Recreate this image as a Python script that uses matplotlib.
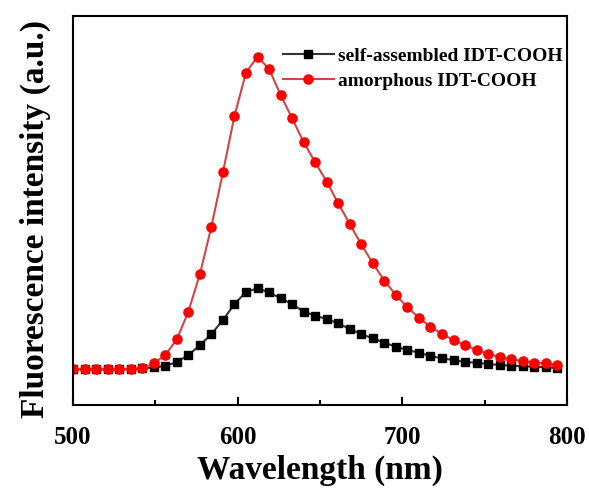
import matplotlib
matplotlib.use('agg')
import matplotlib.pyplot as plt
import numpy as np
from matplotlib.ticker import MultipleLocator

# wavelength grid, 7 nm steps
wavelength = np.arange(500, 795, 7)

# intensities (a.u.)
self_assembled = [0, 0, 0, 0, 0, 1, 3, 6, 10, 22, 43, 72, 106, 148, 196, 232,
                  243, 231, 213, 196, 173, 161, 151, 138, 121, 106, 93, 80, 68,
                  58, 50, 40, 33, 28, 22, 20, 16, 13, 11, 9, 8, 6, 4]
amorphous = [0, 0, 0, 0, 0, 1, 3, 18, 43, 90, 173, 285, 428, 591, 760, 890,
             938, 901, 823, 753, 681, 621, 563, 498, 436, 375, 318, 266, 223,
             186, 155, 128, 106, 88, 73, 58, 46, 38, 30, 25, 20, 18, 14]

plt.rcParams['font.family'] = 'Liberation Serif'
plt.rcParams['font.weight'] = 'bold'

fig = plt.figure(figsize=(5.89, 4.97), dpi=100)
ax = fig.add_axes([0.124, 0.185, 0.839, 0.783])

ax.plot(wavelength, self_assembled, color='#333333', lw=1.5, marker='s',
        ms=5.8, mfc='black', mec='black', label='self-assembled IDT-COOH')
ax.plot(wavelength, amorphous, color='#d04545', lw=1.5, marker='o',
        ms=6.6, mfc='red', mec='red', label='amorphous IDT-COOH')

ax.set_xlim(500, 800)
ax.set_ylim(-107, 1060)
ax.xaxis.set_major_locator(MultipleLocator(100))
ax.xaxis.set_minor_locator(MultipleLocator(50))
ax.tick_params(axis='x', which='major', direction='in', length=6, width=1.5,
               labelsize=18, pad=15)
ax.tick_params(axis='x', which='minor', direction='in', length=3.5, width=1.5)
ax.set_yticks([])
for s in ax.spines.values():
    s.set_linewidth(1.5)

ax.set_xlabel('Wavelength (nm)', fontsize=24, fontweight='bold', labelpad=4)
ax.set_ylabel('Fluorescence intensity (a.u.)', fontsize=24, fontweight='bold')
ax.yaxis.set_label_coords(-0.045, 0.477)

ax.legend(loc='upper right', bbox_to_anchor=(0.99, 0.92), frameon=False,
          fontsize=14, handlelength=2.6, handletextpad=0.2, labelspacing=0.4,
          borderpad=0, borderaxespad=0)

fig.savefig('out.png', dpi=100)
